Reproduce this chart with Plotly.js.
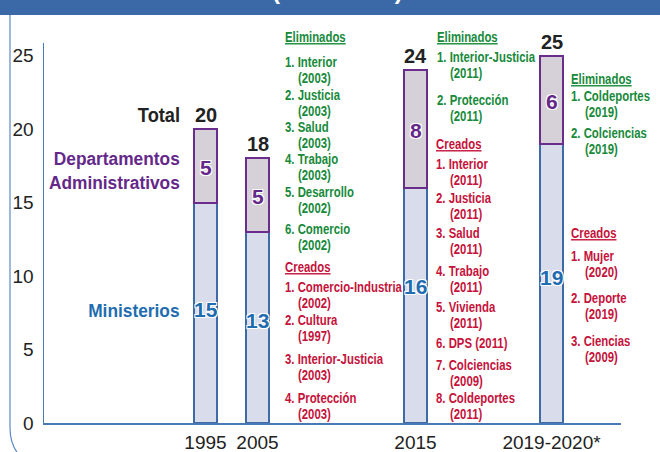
<!DOCTYPE html>
<html>
<head>
<meta charset="utf-8">
<script src="https://cdn.plot.ly/plotly-3.0.1.min.js"></script>
<style>
  html, body { margin: 0; padding: 0; background: #fff; }
  #chart { width: 660px; height: 452px; }
</style>
</head>
<body>
<div id="chart"></div>
<script>
// ---------- DATA ----------
const categories = ['1995', '2005', '2015', '2019-2020*'];
const ministerios = [15, 13, 16, 19];
const departamentos = [5, 5, 8, 6];
const totals = [20, 18, 24, 25];

const col1ElimNames = ['Interior', 'Justicia', 'Salud', 'Trabajo', 'Desarrollo', 'Comercio'];
const col1ElimYears = ['2003', '2003', '2003', '2003', '2002', '2002'];
const col1CreNames = ['Comercio-Industria', 'Cultura', 'Interior-Justicia', 'Protección'];
const col1CreYears = ['2002', '1997', '2003', '2003'];

const col2ElimNames = ['Interior-Justicia', 'Protección'];
const col2ElimYears = ['2011', '2011'];
const col2CreNames = ['Interior', 'Justicia', 'Salud', 'Trabajo', 'Vivienda', 'DPS', 'Colciencias', 'Coldeportes'];
const col2CreYears = ['2011', '2011', '2011', '2011', '2011', '2011', '2009', '2011'];

const col3ElimNames = ['Coldeportes', 'Colciencias'];
const col3ElimYears = ['2019', '2019'];
const col3CreNames = ['Mujer', 'Deporte', 'Ciencias'];
const col3CreYears = ['2020', '2019', '2009'];

// ---------- FONT ----------
const FAM = '"Liberation Sans"';
const FONT = 'Liberation Sans, Arial, sans-serif';
const cnv = document.createElement('canvas').getContext('2d');
function w(s, size) { cnv.font = 'bold ' + size + 'px ' + FAM; return cnv.measureText(s).width; }
const LIST_SIZE = 14;
// the source uses a condensed face: squeeze list texts horizontally to the source width
const LIST_SCALE = Math.min(1, 117 / w('1. Comercio-Industria', LIST_SIZE));
const SIDE_SIZE = 18.5;
const SIDE_SCALE = Math.min(1, 131 / w('Administrativos', SIDE_SIZE));

// ---------- LAYOUT HELPERS ----------
const L = 44, R = 621, T = 43, B = 423;
const X = p => (p - L) / (R - L);
const Y = p => (B - p) / (B - T);

const xPos = [161.5, 213.5, 371.5, 507.5];   // bar centres on the numeric x axis
const barW = 23;
const minLabelY = [7.7, 7.0, 9.3, 9.9];      // label heights inside ministerios segments

const GREEN = '#178a3a', RED = '#c5123a', PURPLE = '#64288a', BLUE = '#1f6db0';
const halo = '1px 1px 0 #fff, -1px -1px 0 #fff, 1px -1px 0 #fff, -1px 1px 0 #fff';

const traces = [
  {
    type: 'bar', x: xPos, y: ministerios, width: barW, name: 'Ministerios',
    marker: { color: '#d9dcea', line: { color: '#3d6ba6', width: 2 } },
    hoverinfo: 'skip'
  },
  {
    type: 'bar', x: xPos, y: departamentos, width: barW, name: 'Departamentos Administrativos',
    marker: { color: '#d6d0d8', line: { color: '#6b2d8c', width: 2 } },
    hoverinfo: 'skip'
  }
];

const ann = [];
const squeeze = {};   // annotation index -> [scale, origin]
function txt(xp, yp, text, color, size, anchor, scale, extra) {
  if (scale && scale < 1) squeeze[ann.length] = [scale, anchor === 'right' ? 'right' : 'left'];
  ann.push(Object.assign({
    xref: 'paper', yref: 'paper', x: X(xp), y: Y(yp), text: text,
    showarrow: false, xanchor: anchor || 'left', yanchor: 'middle', align: 'left',
    font: { family: FONT, size: size, color: color, weight: 'bold' }
  }, extra || {}));
}
function list(xp, indent, header, headerY, color, names, years, ys, singles) {
  txt(xp, headerY, '<u>' + header + '</u>', color, LIST_SIZE, 'left', LIST_SCALE);
  names.forEach((n, i) => {
    if (singles && singles[i]) {
      txt(xp, ys[i], (i + 1) + '. ' + n + ' (' + years[i] + ')', color, LIST_SIZE, 'left', LIST_SCALE);
    } else {
      txt(xp, ys[i], (i + 1) + '. ' + n, color, LIST_SIZE, 'left', LIST_SCALE);
      txt(xp + indent, ys[i] + 16, '(' + years[i] + ')', color, LIST_SIZE, 'left', LIST_SCALE);
    }
  });
}

// Column 1
list(283, 13, 'Eliminados', 37, GREEN, col1ElimNames, col1ElimYears, [62, 95, 127, 159, 192, 229]);
list(283, 13, 'Creados', 267, RED, col1CreNames, col1CreYears, [287, 320, 359, 398]);
// Column 2
list(435, 13, 'Eliminados', 37, GREEN, col2ElimNames, col2ElimYears, [57, 100]);
list(434, 14, 'Creados', 144, RED, col2CreNames, col2CreYears, [164, 198, 233, 271, 307, 343, 365, 398],
     [false, false, false, false, false, true, false, false]);
// Column 3
list(569, 14, 'Eliminados', 79, GREEN, col3ElimNames, col3ElimYears, [96, 133]);
list(569, 14, 'Creados', 233, RED, col3CreNames, col3CreYears, [256, 298, 341]);

// Left side labels
txt(182, 115, 'Total', '#222', SIDE_SIZE + 1, 'right', SIDE_SCALE);
txt(182, 170, 'Departamentos<br>Administrativos', PURPLE, SIDE_SIZE, 'right', SIDE_SCALE, { align: 'right' });
txt(182, 310, 'Ministerios', BLUE, SIDE_SIZE, 'right', SIDE_SCALE);

// Totals and segment labels
categories.forEach((c, i) => {
  ann.push({
    xref: 'x', yref: 'y', x: xPos[i], y: totals[i], yanchor: 'bottom', yshift: 1,
    text: String(totals[i]), showarrow: false,
    font: { family: FONT, size: 20, color: '#222', weight: 'bold' }
  });
  ann.push({
    xref: 'x', yref: 'y', x: xPos[i], y: ministerios[i] + departamentos[i] / 2 - 0.1,
    text: String(departamentos[i]), showarrow: false,
    font: { family: FONT, size: 21, color: PURPLE, weight: 'bold', shadow: halo }
  });
  ann.push({
    xref: 'x', yref: 'y', x: xPos[i], y: minLabelY[i],
    text: String(ministerios[i]), showarrow: false,
    font: { family: FONT, size: 21, color: BLUE, weight: 'bold', shadow: halo }
  });
});

// Banner text (mostly cut off at the top, as in the source)
ann.push({
  xref: 'paper', yref: 'paper', x: X(337), y: Y(6), yanchor: 'bottom', xanchor: 'center',
  text: '(1995-2020)', showarrow: false,
  font: { family: FONT, size: 24, color: '#ffffff', weight: 'bold' }
});

const shapes = [
  { type: 'rect', xref: 'paper', yref: 'paper', x0: X(-5), x1: X(670), y0: Y(15), y1: Y(-5),
    fillcolor: '#3b68a6', line: { width: 0 }, layer: 'below' },
  { type: 'path', xref: 'paper', yref: 'paper',
    path: 'M ' + X(10) + ' ' + Y(15) + ' L ' + X(10) + ' ' + Y(428) +
          ' Q ' + X(10) + ' ' + Y(444) + ' ' + X(19) + ' ' + Y(455),
    line: { color: '#5f8ac6', width: 1.2 } }
];

const layout = {
  width: 660, height: 452,
  margin: { l: L, r: 660 - R, t: T, b: 452 - B, pad: 0 },
  barmode: 'stack',
  showlegend: false,
  hovermode: false,
  paper_bgcolor: '#ffffff', plot_bgcolor: '#ffffff',
  xaxis: {
    range: [0, R - L], showgrid: false, zeroline: false,
    tickmode: 'array', tickvals: xPos, ticktext: categories, ticks: '',
    showline: true, linecolor: '#4a78b6', linewidth: 1.5,
    tickfont: { family: FONT, size: 19, color: '#222' }, ticklabelstandoff: 2
  },
  yaxis: {
    range: [0, 25.85], showgrid: false, zeroline: false,
    tickmode: 'array', tickvals: [0, 5, 10, 15, 20, 25], ticks: '',
    showline: true, linecolor: '#4a78b6', linewidth: 1.5,
    tickfont: { family: FONT, size: 19, color: '#222' }, ticklabelstandoff: 5
  },
  annotations: ann,
  shapes: shapes
};

Plotly.newPlot('chart', traces, layout, { displayModeBar: false, staticPlot: true }).then(gd => {
  gd.querySelectorAll('g.annotation').forEach(g => {
    const idx = +g.getAttribute('data-index');
    const s = squeeze[idx];
    if (!s) return;
    const t = g.querySelector('text.annotation-text');
    if (!t) return;
    t.style.transformBox = 'fill-box';
    t.style.transformOrigin = s[1] + ' center';
    t.style.transform = 'scaleX(' + s[0].toFixed(4) + ')';
  });
});
</script>
</body>
</html>
